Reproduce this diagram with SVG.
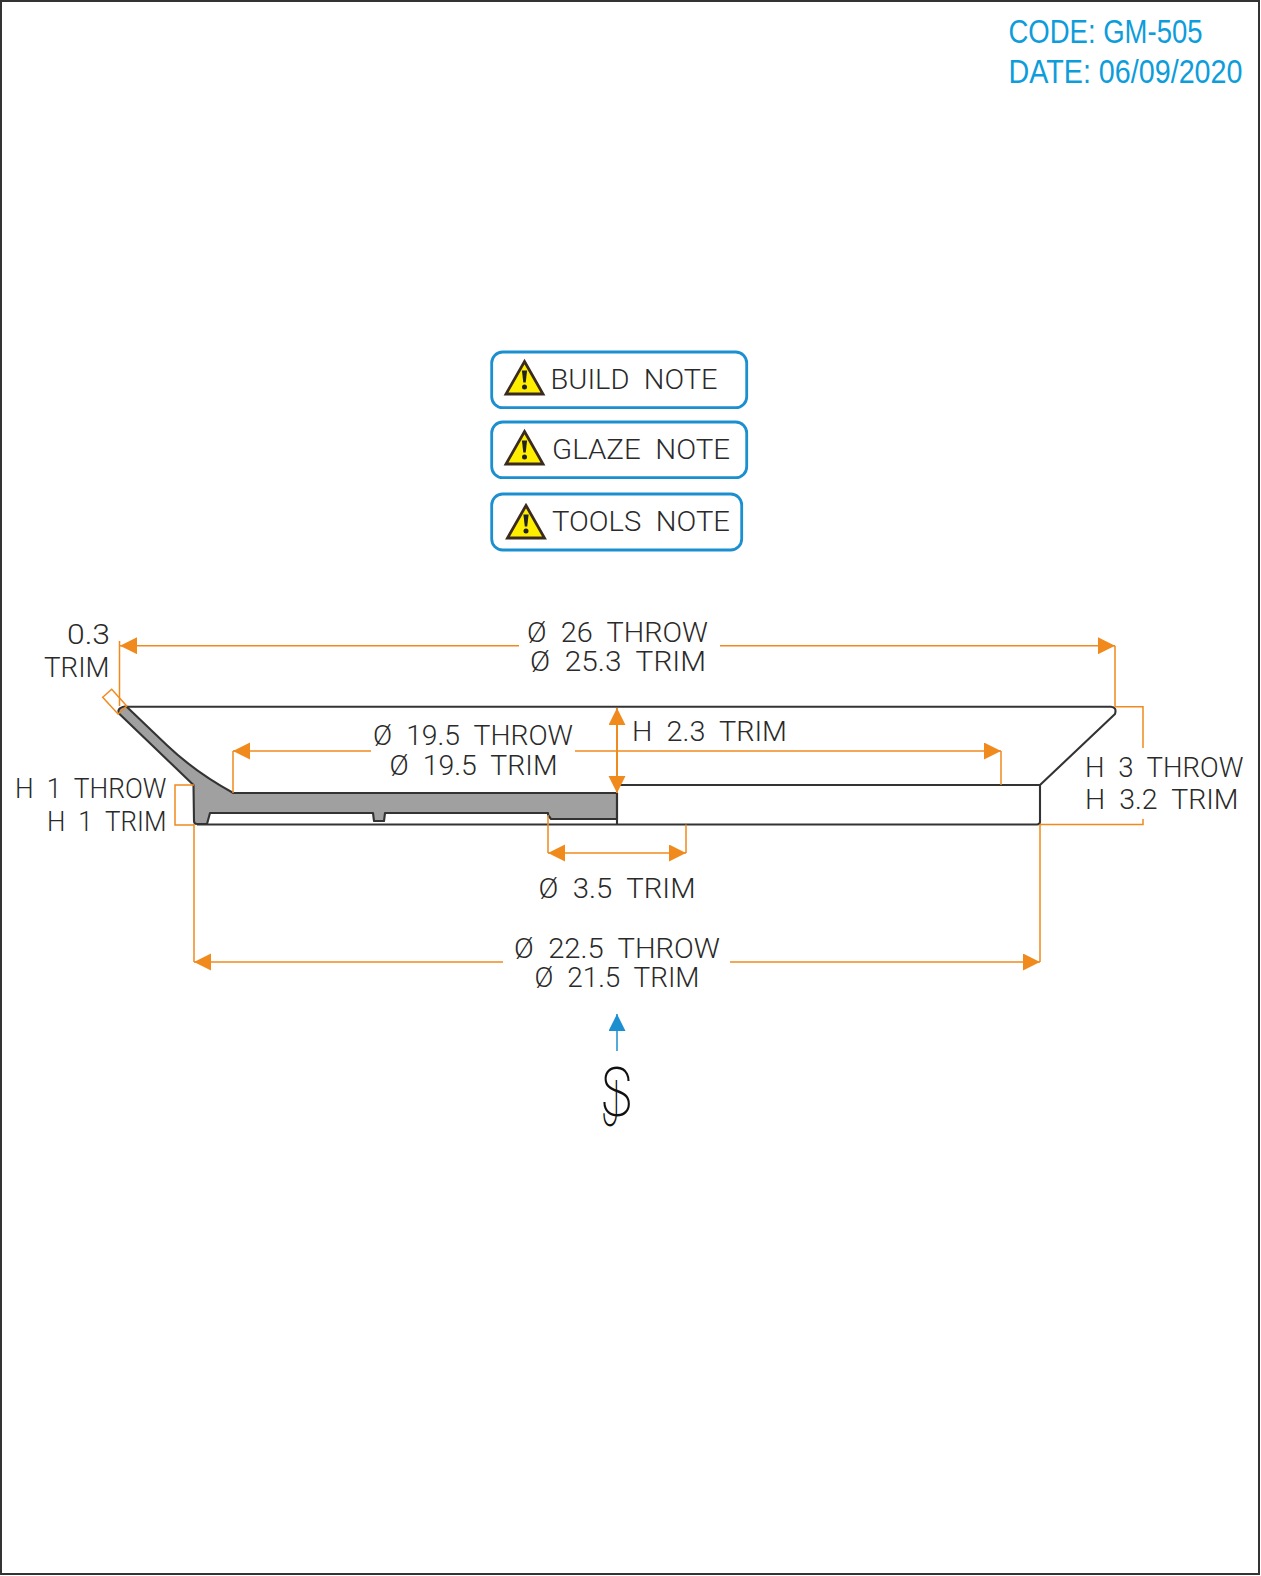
<svg xmlns="http://www.w3.org/2000/svg" width="1261" height="1576" viewBox="0 0 1261 1576">
<style>
.d{font-family:Roboto,"Liberation Sans",sans-serif;font-weight:300;font-size:28px;fill:#2a2a2a;word-spacing:7px;letter-spacing:0}
.c{font-family:"Liberation Sans",Arial,sans-serif;font-size:33px;fill:#0d9ddb}
.o{fill:none;stroke:#f08a1d;stroke-width:1.5}
.a{marker-start:url(#ah);marker-end:url(#ah)}
.s{marker-start:url(#ah)}
.e{marker-end:url(#ah)}
.b{fill:#fff;stroke:#1b8fcf;stroke-width:2.8}
.l{fill:none;stroke:#333;stroke-width:2.1;stroke-linejoin:round}
</style>
<defs>
<marker id="ah" markerUnits="userSpaceOnUse" markerWidth="18" markerHeight="18" refX="17" refY="8.5" orient="auto-start-reverse"><path d="M0 0L17 8.5L0 17Z" fill="#f08a1d"/></marker>
<marker id="bh" markerUnits="userSpaceOnUse" markerWidth="18" markerHeight="18" refX="17" refY="8.5" orient="auto"><path d="M0 0L17 8.5L0 17Z" fill="#1b8fcf"/></marker>
<g id="warn"><path d="M0 0L18.5 32.5H-18.5Z" fill="#ffee00" stroke="#3a2a20" stroke-width="2.8" stroke-linejoin="miter"/><path d="M-2.6 9H2.6L1.2 21H-1.2Z" fill="#222"/><circle cx="0" cy="25.5" r="2.5" fill="#222"/></g>
</defs>
<rect id="frame" x="1" y="1" width="1258" height="1573" fill="#fff" stroke="#333" stroke-width="2"/>
<g id="title"><text class="c" x="1008.5" y="43" textLength="194" lengthAdjust="spacingAndGlyphs">CODE: GM-505</text><text class="c" x="1008.5" y="83" textLength="234" lengthAdjust="spacingAndGlyphs">DATE: 06/09/2020</text></g>
<g id="note-build"><rect class="b" x="491.7" y="352" width="255" height="55.7" rx="11"/><use href="#warn" x="524.5" y="361.5"/><text class="d" x="550.5" y="389.3" textLength="167" lengthAdjust="spacingAndGlyphs">BUILD NOTE</text></g>
<g id="note-glaze"><rect class="b" x="491.7" y="422" width="255" height="55.7" rx="11"/><use href="#warn" x="524.5" y="431.5"/><text class="d" x="552" y="459.3" textLength="178" lengthAdjust="spacingAndGlyphs">GLAZE NOTE</text></g>
<g id="note-tools"><rect class="b" x="491.7" y="494" width="250" height="56" rx="11"/><use href="#warn" x="526" y="505.5"/><text class="d" x="552" y="531" textLength="178" lengthAdjust="spacingAndGlyphs">TOOLS NOTE</text></g>
<g id="profile">
<path d="M126.7 706.7L166.7 745Q195 772 233.3 793L617 793L617 819L551 819L548 815L548 813L385 813L384 821L374 821L373 813L210 813L207 824L197 824Q194 824 194 821L193.5 785L119.5 714Q117 710 120.5 708Q123.5 706 126.7 706.7Z" fill="#a0a0a0" stroke="#333" stroke-width="2.1" stroke-linejoin="round"/>
<path class="l" d="M127 706.7H1111Q1117 707 1115 714L1040 785V822Q1040 824.5 1037 824.5H197M617 785H1040M617 793V824.5"/>
</g>
<g id="connectors">
<path class="o" d="M119.5 641V706M1115 645.7V706.7M1115 706.7H1143V748M1040 824.5H1143V819M233 751V793M1001 751V785M548 815V853M686 824.5V853M194 824V962M1040 824V962M194 785H175V825H194"/>
<path class="o" d="M102.7 697.3L111.7 689.3L126.7 706L118 714Z"/>
<path class="o s" d="M120 645.7H519"/>
<path class="o e" d="M720 645.7H1115"/>
<path class="o s" d="M233 751H371"/>
<path class="o e" d="M575 751H1001"/>
<path class="o a" d="M548 853H686"/>
<path class="o s" d="M194 962H503"/>
<path class="o e" d="M730 962H1040"/>
<path class="a" d="M617 708V793" fill="none" stroke="#f08a1d" stroke-width="2"/>
<path d="M617 1051V1014" fill="none" stroke="#1b8fcf" stroke-width="1.5" marker-end="url(#bh)"/>
</g>
<g id="dimensions">
<text class="d" x="67" y="644" textLength="43" lengthAdjust="spacingAndGlyphs">0.3</text>
<text class="d" x="44" y="677" textLength="65.5" lengthAdjust="spacingAndGlyphs">TRIM</text>
<text class="d" x="15" y="798" textLength="151.5" lengthAdjust="spacingAndGlyphs">H 1 THROW</text>
<text class="d" x="47" y="831" textLength="119.5" lengthAdjust="spacingAndGlyphs">H 1 TRIM</text>
<text class="d" x="527" y="642" textLength="181" lengthAdjust="spacingAndGlyphs">Ø 26 THROW</text>
<text class="d" x="530" y="671" textLength="176" lengthAdjust="spacingAndGlyphs">Ø 25.3 TRIM</text>
<text class="d" x="373" y="745" textLength="200" lengthAdjust="spacingAndGlyphs">Ø 19.5 THROW</text>
<text class="d" x="389.5" y="775" textLength="168" lengthAdjust="spacingAndGlyphs">Ø 19.5 TRIM</text>
<text class="d" x="632" y="740.7" textLength="155" lengthAdjust="spacingAndGlyphs">H 2.3 TRIM</text>
<text class="d" x="538.5" y="897.7" textLength="157" lengthAdjust="spacingAndGlyphs">Ø 3.5 TRIM</text>
<text class="d" x="514" y="957.7" textLength="206" lengthAdjust="spacingAndGlyphs">Ø 22.5 THROW</text>
<text class="d" x="534.5" y="987.3" textLength="165" lengthAdjust="spacingAndGlyphs">Ø 21.5 TRIM</text>
<text class="d" x="1085" y="776.7" textLength="158.5" lengthAdjust="spacingAndGlyphs">H 3 THROW</text>
<text class="d" x="1085" y="809.3" textLength="153.5" lengthAdjust="spacingAndGlyphs">H 3.2 TRIM</text>
</g>
<g id="logo" font-family="Roboto,'Liberation Sans',sans-serif" font-weight="200" fill="#111">
<text x="601" y="1116" font-size="68" textLength="31" lengthAdjust="spacingAndGlyphs">S</text>
<text x="602" y="1126" font-size="64" textLength="18" lengthAdjust="spacingAndGlyphs">J</text>
</g>
</svg>
